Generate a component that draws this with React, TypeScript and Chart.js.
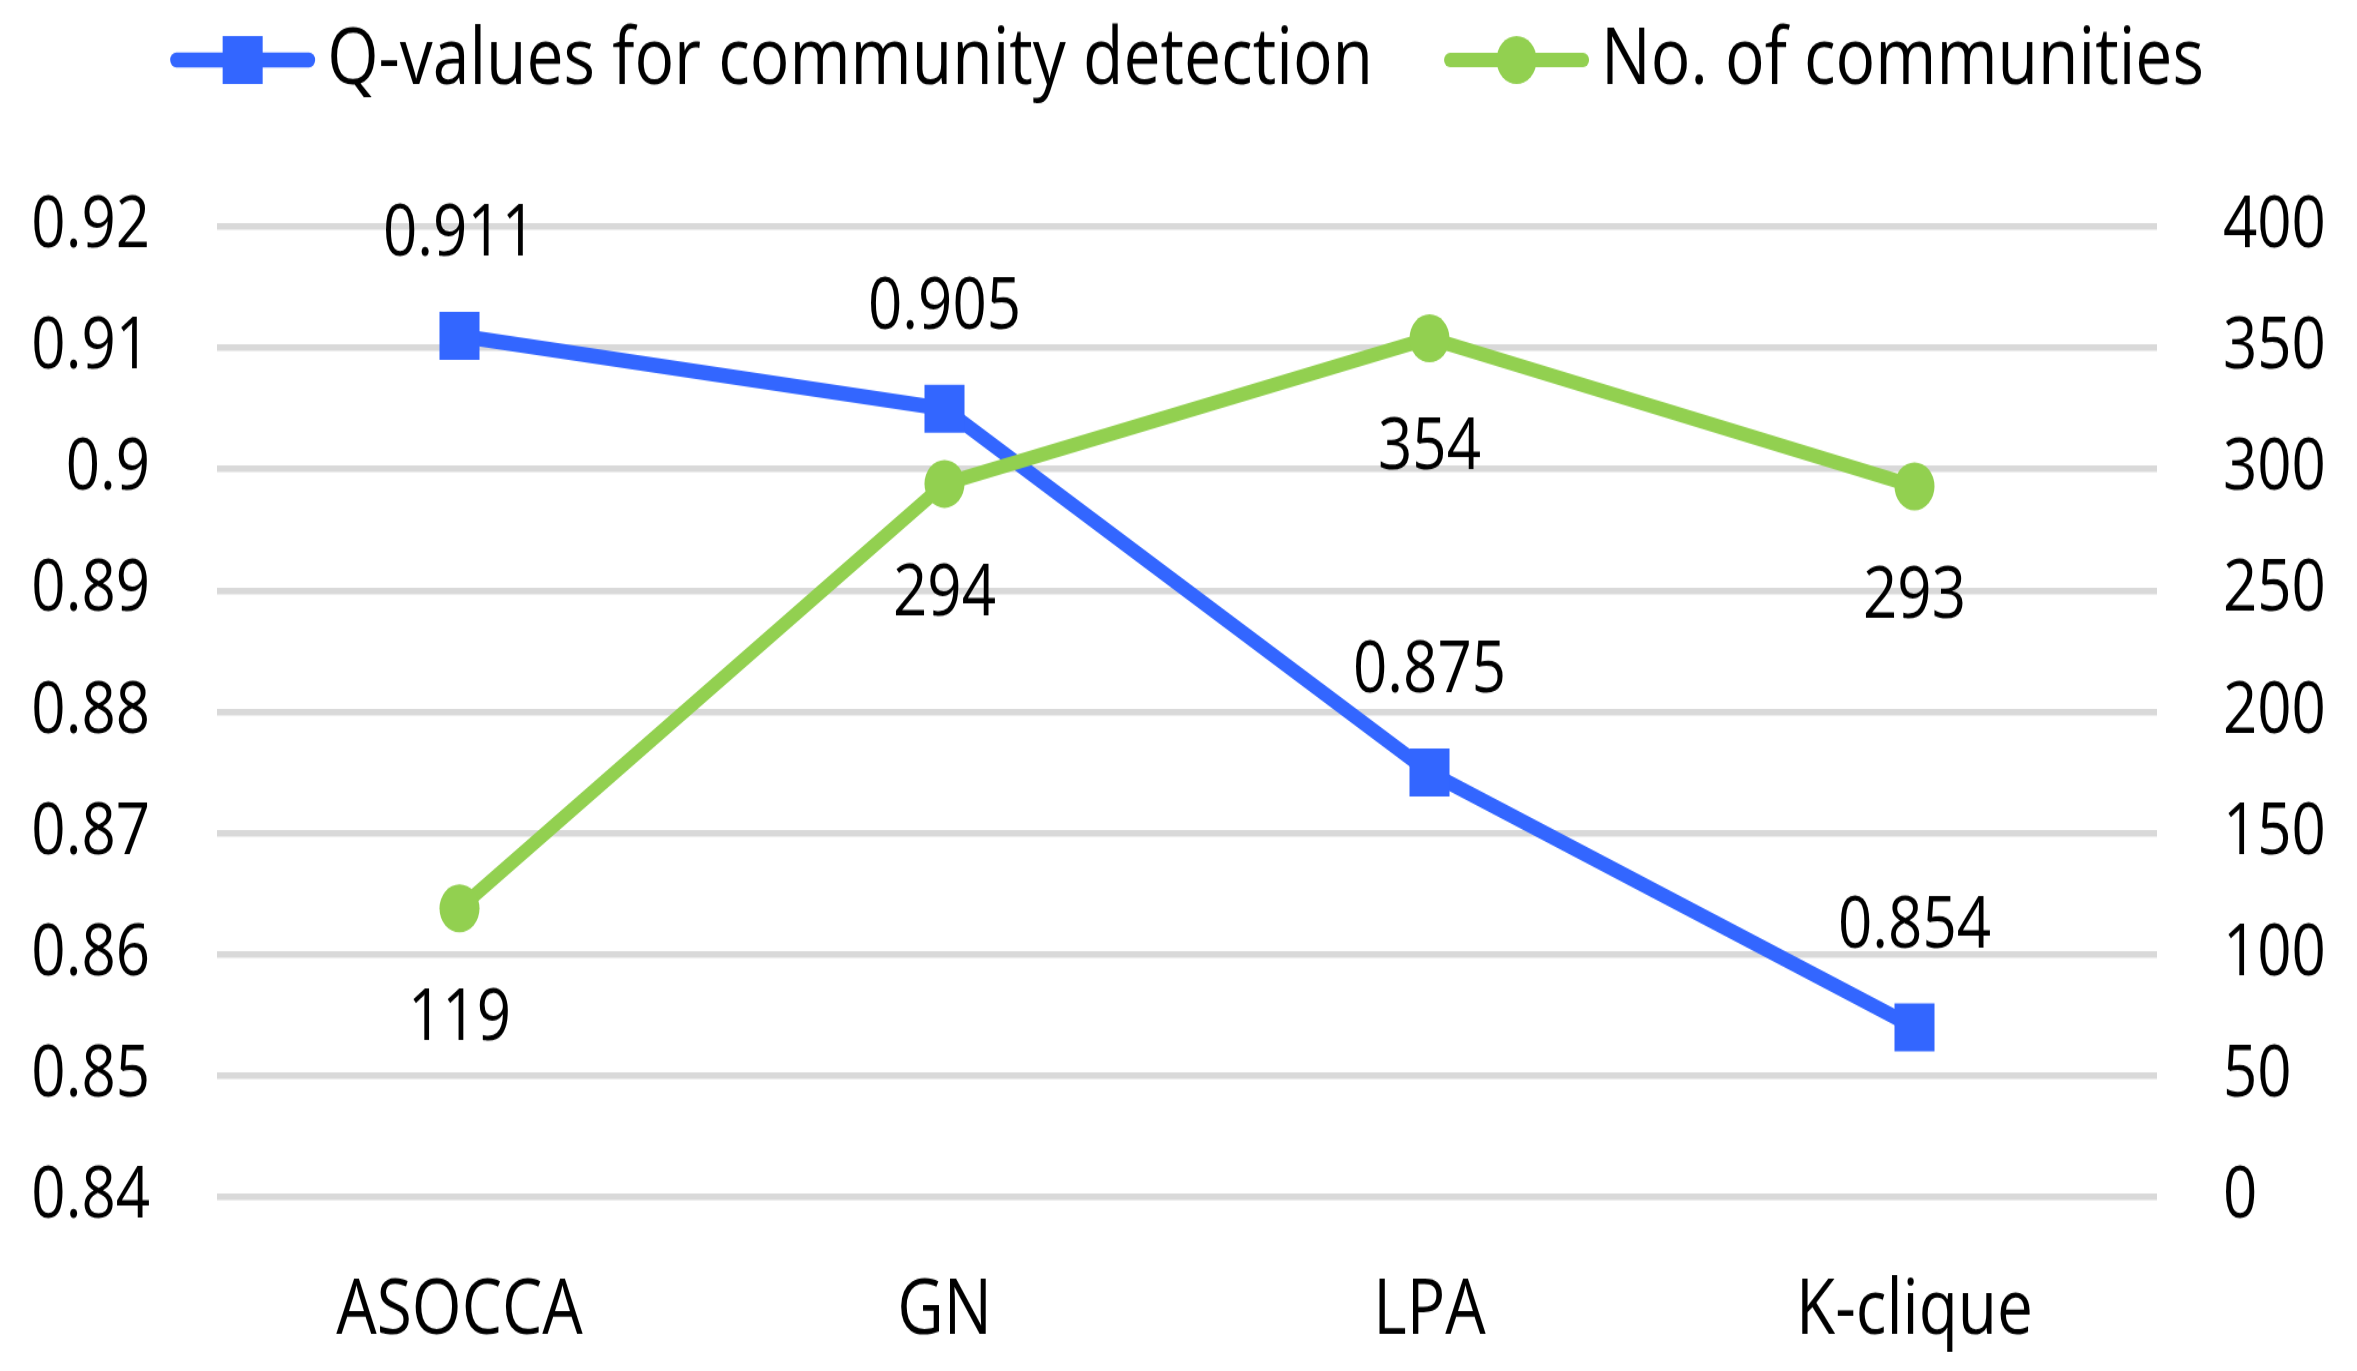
import React, { useEffect, useRef } from 'react';
import { Chart, registerables } from 'chart.js';

Chart.register(...registerables);

// ---- data ----
const categories = ['ASOCCA', 'GN', 'LPA', 'K-clique'];
const qValues = [0.911, 0.905, 0.875, 0.854];
const communityCounts = [119, 294, 354, 293];
const qSeriesName = 'Q-values for community detection';
const countSeriesName = 'No. of communities';
const leftTickValues = [0.84, 0.85, 0.86, 0.87, 0.88, 0.89, 0.9, 0.91, 0.92];
const rightTickValues = [0, 50, 100, 150, 200, 250, 300, 350, 400];

// ---- style ----
const W = 2357;
const H = 1371;
const STRETCH = 1.2; // the reference is drawn slightly stretched vertically
const H0 = Math.round(H / STRETCH);
const FONT = "'Open Sans', 'Noto Sans', sans-serif";
const BLUE = '#3366ff';
const GREEN = '#92d050';
const GRID = '#d9d9d9';
const TICK_SIZE = 60;
const CAT_SIZE = 64;
const LEGEND_SIZE = 66;
const PLOT_TOP = Math.round(227 / STRETCH);
const PLOT_BOTTOM = Math.round(1197 / STRETCH);

const valueLabelPlugin = {
  id: 'valueLabels',
  afterDatasetsDraw(chart: any) {
    const ctx = chart.ctx;
    ctx.save();
    ctx.font = `${TICK_SIZE}px ${FONT}`;
    ctx.fillStyle = '#000';
    ctx.textAlign = 'center';
    ctx.textBaseline = 'alphabetic';
    const half = (TICK_SIZE * 0.714) / 2;
    chart.data.datasets.forEach((ds: any, di: number) => {
      const meta = chart.getDatasetMeta(di);
      const off = ds.labelOffset as number;
      meta.data.forEach((pt: any, i: number) => {
        ctx.fillText(String(ds.data[i]), pt.x, pt.y + off + half);
      });
    });
    ctx.restore();
  },
};

const legendPlugin = {
  id: 'lineLegend',
  afterDraw(chart: any) {
    const ctx = chart.ctx;
    const area = chart.chartArea;
    const lineLen = 145;
    const gap = 12;
    const itemGap = 71;
    const markerY = 50;
    const baseY = 70;
    ctx.save();
    ctx.font = `${LEGEND_SIZE}px ${FONT}`;
    const items = chart.data.datasets.map((ds: any) => ({
      label: ds.label,
      color: ds.borderColor,
      style: ds.pointStyle,
      lw: ds.borderWidth,
      radius: ds.pointRadius,
      tw: ctx.measureText(ds.label).width,
    }));
    items.sort((a: any, b: any) => (a.label === qSeriesName ? -1 : b.label === qSeriesName ? 1 : 0));
    let total = 0;
    items.forEach((it: any, i: number) => {
      total += lineLen + gap + it.tw + (i < items.length - 1 ? itemGap : 0);
    });
    let x = (area.left + area.right) / 2 - total / 2;
    items.forEach((it: any) => {
      ctx.strokeStyle = it.color;
      ctx.fillStyle = it.color;
      ctx.lineWidth = it.lw;
      ctx.lineCap = 'round';
      ctx.beginPath();
      ctx.moveTo(x + it.lw / 2, markerY);
      ctx.lineTo(x + lineLen - it.lw / 2, markerY);
      ctx.stroke();
      const cx = x + lineLen / 2;
      ctx.beginPath();
      if (it.style === 'rect') {
        const s = it.radius * Math.SQRT1_2;
        ctx.rect(cx - s, markerY - s, 2 * s, 2 * s);
      } else {
        ctx.arc(cx, markerY, it.radius, 0, Math.PI * 2);
      }
      ctx.fill();
      ctx.fillStyle = '#000';
      ctx.textAlign = 'left';
      ctx.textBaseline = 'alphabetic';
      ctx.fillText(it.label, x + lineLen + gap, baseY);
      x += lineLen + gap + it.tw + itemGap;
    });
    ctx.restore();
  },
};

export default function App() {
  const ref = useRef<HTMLCanvasElement | null>(null);

  useEffect(() => {
    document.body.style.margin = '0';
    const canvas = ref.current;
    if (!canvas) return;
    const tickFont = { family: FONT, size: TICK_SIZE, lineHeight: 1.2 };
    const catFont = { family: FONT, size: CAT_SIZE, lineHeight: 1.2 };
    const chart = new Chart(canvas, {
      type: 'line',
      data: {
        labels: categories,
        datasets: [
          {
            label: qSeriesName,
            data: qValues,
            yAxisID: 'yLeft',
            borderColor: BLUE,
            backgroundColor: BLUE,
            borderWidth: 12.5,
            pointStyle: 'rect',
            pointRadius: 28.3,
            pointHoverRadius: 28.3,
            pointBorderWidth: 0,
            tension: 0,
            order: 1,
            labelOffset: -88,
          } as any,
          {
            label: countSeriesName,
            data: communityCounts,
            yAxisID: 'yRight',
            borderColor: GREEN,
            backgroundColor: GREEN,
            borderWidth: 12,
            pointStyle: 'circle',
            pointRadius: 20,
            pointHoverRadius: 20,
            pointBorderWidth: 0,
            tension: 0,
            order: 0,
            labelOffset: 88,
          } as any,
        ],
      },
      options: {
        responsive: false,
        devicePixelRatio: 1,
        animation: false,
        layout: { padding: { top: PLOT_TOP, left: 0, right: 0, bottom: 0 } },
        plugins: {
          legend: { display: false },
          tooltip: { enabled: false },
        },
        scales: {
          x: {
            type: 'category',
            offset: true,
            grid: { display: false, drawTicks: false },
            border: { display: false },
            ticks: { color: '#000', font: catFont, padding: 57, maxRotation: 0 },
            afterFit: (s: any) => { s.height = H0 - PLOT_BOTTOM; },
          },
          yLeft: {
            type: 'linear',
            position: 'left',
            min: 0.84,
            max: 0.92,
            afterBuildTicks: (s: any) => { s.ticks = leftTickValues.map((v) => ({ value: v })); },
            grid: { color: GRID, lineWidth: 5.6, drawTicks: false },
            border: { display: false },
            ticks: {
              color: '#000',
              font: tickFont,
              padding: 67,
              callback: (v: any) => String(Number(Number(v).toFixed(2))),
            },
            afterFit: (s: any) => { s.width = 217; },
          },
          yRight: {
            type: 'linear',
            position: 'right',
            min: 0,
            max: 400,
            afterBuildTicks: (s: any) => { s.ticks = rightTickValues.map((v) => ({ value: v })); },
            grid: { display: false, drawTicks: false, drawOnChartArea: false },
            border: { display: false },
            ticks: { color: '#000', font: tickFont, padding: 66 },
            afterFit: (s: any) => { s.width = W - 2157; },
          },
        },
      } as any,
      plugins: [valueLabelPlugin, legendPlugin],
    });
    return () => chart.destroy();
  }, []);

  return (
    <div style={{ position: 'absolute', left: 0, top: 0, width: W, height: H, background: '#fff', overflow: 'hidden' }}>
      <div style={{ width: W, height: H0, transform: `scale(1, ${H / H0})`, transformOrigin: '0 0' }}>
        <canvas ref={ref} width={W} height={H0} style={{ width: W, height: H0, display: 'block' }} />
      </div>
    </div>
  );
}
